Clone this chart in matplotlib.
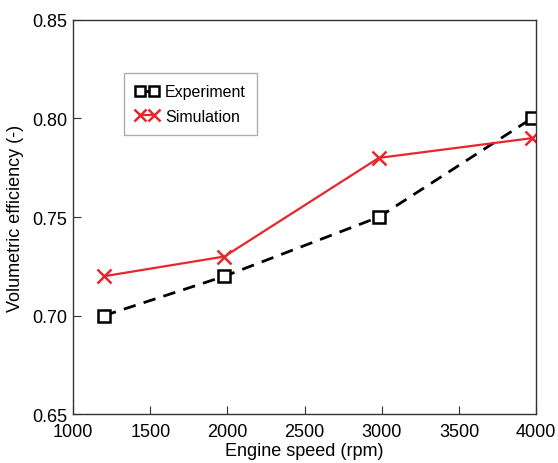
import matplotlib.pyplot as plt

plt.rcParams['font.family'] = ['Liberation Sans', 'DejaVu Sans']

speed = [1200, 1980, 2980, 3970]
experiment = [0.70, 0.72, 0.75, 0.80]
simulation = [0.72, 0.73, 0.78, 0.79]

fig = plt.figure(figsize=(5.58, 4.64), dpi=100)
ax = fig.add_axes([0.131, 0.105, 0.830, 0.850])

ax.plot(speed, experiment, color='black', linestyle=(0, (4.5, 3)), linewidth=2,
        marker='s', markersize=8.5, markerfacecolor='white', markeredgecolor='black',
        markeredgewidth=1.8, label='Experiment')
ax.plot(speed, simulation, color='#e8262c', linewidth=1.6,
        marker='x', markersize=9.5, markeredgewidth=1.8, label='Simulation')

ax.set_xlim(1000, 4000)
ax.set_ylim(0.65, 0.85)
ax.set_xticks([1000, 1500, 2000, 2500, 3000, 3500, 4000])
ax.set_yticks([0.65, 0.70, 0.75, 0.80, 0.85])
ax.set_yticklabels(['0.65', '0.70', '0.75', '0.80', '0.85'])
ax.tick_params(direction='in', length=6, labelsize=13, color='#333333')
ax.tick_params(axis='x', pad=6)
ax.tick_params(axis='y', pad=4)
ax.set_xlabel('Engine speed (rpm)', fontsize=13, labelpad=2)
ax.set_ylabel('Volumetric efficiency (-)', fontsize=13, labelpad=6)
for s in ax.spines.values():
    s.set_linewidth(1.0)
    s.set_color('#333333')

ax.legend(loc='upper left', bbox_to_anchor=(0.092, 0.885), fontsize=11.5,
          frameon=True, fancybox=False, edgecolor='#999999', handlelength=1.5,
          handletextpad=0.4, borderpad=0.7, labelspacing=0.6, numpoints=2,
          markerscale=0.85)

fig.savefig('out.png', dpi=100)
